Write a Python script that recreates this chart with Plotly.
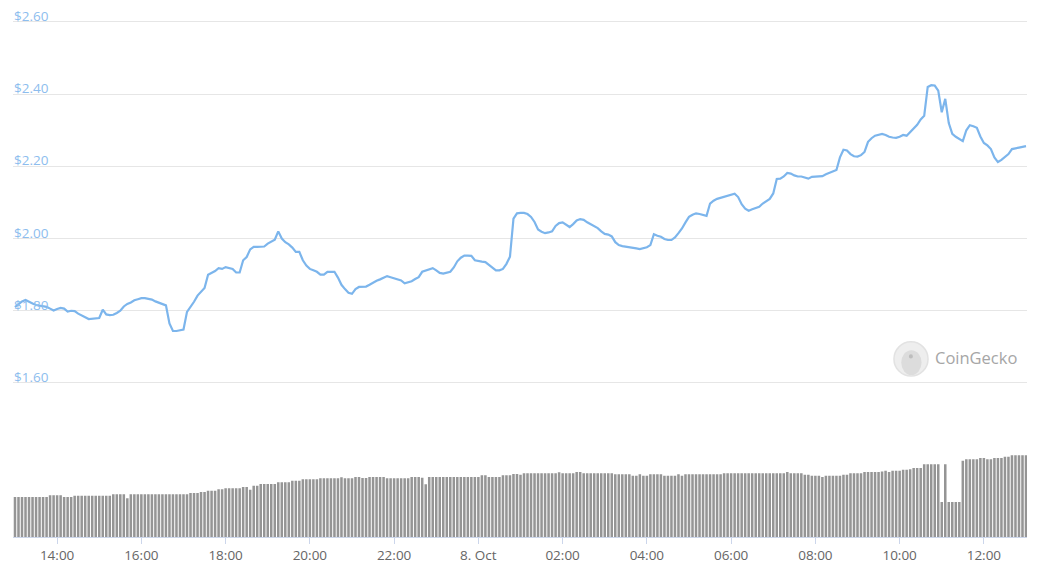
import pandas as pd
import plotly.graph_objects as go

# ---- data (5-minute steps, 7 Oct 13:00 -> 8 Oct 13:00) ----
start_time = "2021-10-07 13:00"
n_points = 289
times = pd.date_range(start_time, periods=n_points, freq="5min")

price = [
    1.810, 1.818, 1.826, 1.830, 1.824, 1.820, 1.816, 1.815, 1.813, 1.811, 1.806, 1.801,
    1.805, 1.808, 1.806, 1.798, 1.800, 1.799, 1.792, 1.788, 1.782, 1.777, 1.778, 1.780,
    1.780, 1.803, 1.790, 1.788, 1.789, 1.794, 1.800, 1.812, 1.819, 1.823, 1.829, 1.832,
    1.835, 1.835, 1.834, 1.831, 1.826, 1.822, 1.818, 1.815, 1.765, 1.744, 1.744, 1.745,
    1.748, 1.797, 1.810, 1.825, 1.842, 1.852, 1.863, 1.900, 1.905, 1.910, 1.918, 1.916,
    1.921, 1.918, 1.916, 1.906, 1.906, 1.940, 1.949, 1.970, 1.977, 1.977, 1.977, 1.978,
    1.986, 1.992, 1.997, 2.020, 2.000, 1.990, 1.984, 1.975, 1.963, 1.963, 1.940, 1.925,
    1.916, 1.912, 1.908, 1.900, 1.900, 1.908, 1.908, 1.908, 1.892, 1.872, 1.860, 1.850,
    1.847, 1.860, 1.866, 1.866, 1.867, 1.872, 1.878, 1.883, 1.887, 1.891, 1.896, 1.893,
    1.890, 1.887, 1.884, 1.876, 1.878, 1.882, 1.888, 1.893, 1.908, 1.911, 1.915, 1.918,
    1.912, 1.905, 1.903, 1.905, 1.908, 1.920, 1.937, 1.947, 1.953, 1.953, 1.952, 1.940,
    1.937, 1.936, 1.935, 1.928, 1.921, 1.912, 1.912, 1.916, 1.930, 1.950, 2.055, 2.070,
    2.071, 2.071, 2.068, 2.060, 2.046, 2.025, 2.019, 2.015, 2.017, 2.020, 2.035, 2.043,
    2.045, 2.038, 2.032, 2.040, 2.050, 2.054, 2.052, 2.045, 2.040, 2.035, 2.029, 2.020,
    2.013, 2.011, 2.006, 1.990, 1.982, 1.979, 1.978, 1.977, 1.975, 1.973, 1.971, 1.973,
    1.976, 1.982, 2.012, 2.008, 2.005, 1.999, 1.996, 1.996, 2.003, 2.015, 2.028, 2.045,
    2.060, 2.066, 2.070, 2.068, 2.065, 2.063, 2.097, 2.105, 2.110, 2.113, 2.115, 2.118,
    2.122, 2.124, 2.115, 2.095, 2.083, 2.077, 2.081, 2.085, 2.088, 2.097, 2.104, 2.110,
    2.125, 2.165, 2.166, 2.172, 2.182, 2.180, 2.175, 2.172, 2.172, 2.170, 2.166, 2.171,
    2.172, 2.172, 2.173, 2.178, 2.182, 2.184, 2.190, 2.225, 2.246, 2.244, 2.234, 2.228,
    2.227, 2.231, 2.240, 2.268, 2.278, 2.285, 2.288, 2.290, 2.287, 2.282, 2.280, 2.279,
    2.282, 2.287, 2.285, 2.296, 2.306, 2.315, 2.330, 2.340, 2.420, 2.425, 2.424, 2.410,
    2.350, 2.387, 2.320, 2.290, 2.282, 2.276, 2.270, 2.300, 2.314, 2.311, 2.307, 2.283,
    2.265, 2.258, 2.248, 2.225, 2.212, 2.218, 2.227, 2.234, 2.248, 2.251, 2.252, 2.254,
    2.256,
]

volume = [
    40, 40, 40, 40, 40, 40, 40, 40, 40, 40, 41.7, 41.7,
    41.7, 41.7, 40, 40, 40, 41.3, 41.3, 41.3, 41.3, 41.3, 41.3, 41.3,
    41.3, 41.3, 41.3, 41.3, 42.7, 42.7, 42.7, 42.7, 38.7, 42.7, 42.7, 42.7,
    42.7, 42.7, 42.7, 42.7, 42.7, 42.7, 42.7, 42.7, 42.7, 42.7, 42.7, 42.7,
    42.7, 42.7, 44, 44, 44, 45, 45, 46.3, 46.3, 46.3, 47.7, 47.7,
    48.7, 48.7, 48.7, 48.7, 48.7, 50, 50, 47.3, 51.3, 51.3, 53, 53,
    53, 53, 53, 54.7, 54.7, 54.7, 54.7, 56.3, 56.3, 56.3, 57.7, 57.7,
    57.7, 57.7, 57.7, 58.7, 58.7, 58.7, 58.7, 58.7, 58.7, 59.7, 58.7, 58.7,
    58.7, 60, 60, 59, 59, 60, 60, 60, 60, 60, 58.7, 58.7,
    58.7, 58.7, 58.7, 58.7, 58.7, 60, 60, 60, 59.3, 52.7, 60, 60,
    60, 60, 60, 60, 60, 60, 60, 60, 60, 60, 60, 60,
    60, 61.7, 61.7, 60, 60, 60, 60, 61.7, 61.7, 61.7, 63, 63,
    62.3, 63.7, 63.7, 63.7, 63.7, 63.7, 63.7, 63.7, 63.7, 63.7, 63.7, 64.7,
    63.7, 63.7, 63.7, 63.7, 65, 65, 63.7, 63.7, 63.7, 63.7, 63.7, 63.7,
    63.7, 63.7, 63.7, 62.7, 62.7, 62.7, 62.7, 62.7, 61.3, 61.3, 62.7, 61.3,
    61.3, 62.7, 62.7, 62.7, 62.7, 61.3, 61.3, 61.3, 61.3, 62.7, 61.3, 62.7,
    62.7, 62.7, 62.7, 62.7, 62.7, 62.7, 62.7, 62.7, 62.7, 62.7, 63.7, 63.7,
    63.7, 63.7, 63.7, 63.7, 63.7, 63.7, 63.7, 63.7, 63.7, 63.7, 63.7, 63.7,
    63.7, 63.7, 63.7, 63.7, 65, 63.7, 63.7, 63.7, 63.7, 62.3, 62.3, 61.3,
    61.3, 61.3, 60, 61.3, 61.3, 61.3, 61.3, 61.3, 62.3, 62.3, 63.7, 63.7,
    63.7, 63.7, 65, 65, 65, 65, 65, 65.5, 66.3, 65, 66.3, 66.3,
    66.3, 67.3, 67.3, 67.7, 69, 69, 69, 72.7, 72.7, 72.7, 72.7, 72.7,
    35, 72.7, 35, 35, 35, 35, 76.3, 77.7, 77.7, 77.7, 77.7, 79,
    79, 77.7, 77.7, 79, 79, 79, 80.3, 80.3, 81.7, 81.7, 81.7, 81.7,
    81.7,
]

price_ticks = [1.6, 1.8, 2.0, 2.2, 2.4, 2.6]
price_tick_labels = ["$1.60", "$1.80", "$2.00", "$2.20", "$2.40", "$2.60"]
x_tick_times = ["2021-10-07 14:00", "2021-10-07 16:00", "2021-10-07 18:00",
                "2021-10-07 20:00", "2021-10-07 22:00", "2021-10-08 00:00",
                "2021-10-08 02:00", "2021-10-08 04:00", "2021-10-08 06:00",
                "2021-10-08 08:00", "2021-10-08 10:00", "2021-10-08 12:00"]
x_tick_labels = ["14:00", "16:00", "18:00", "20:00", "22:00", "8. Oct",
                 "02:00", "04:00", "06:00", "08:00", "10:00", "12:00"]

# ---- figure ----
fig = go.Figure()

fig.add_trace(go.Bar(
    x=times, y=volume, xaxis="x", yaxis="y2",
    marker=dict(color="#959595", line=dict(width=0)),
    hoverinfo="skip", showlegend=False,
))

fig.add_trace(go.Scatter(
    x=times, y=price, xaxis="x", yaxis="y",
    mode="lines", line=dict(color="#7cb5ec", width=2.2),
    showlegend=False,
))

FONT = "Open Sans, Noto Sans, DejaVu Sans, sans-serif"

fig.update_layout(
    width=1036, height=570,
    margin=dict(l=5, r=17, t=10, b=41),
    paper_bgcolor="white", plot_bgcolor="white",
    bargap=0.28,
    font=dict(family=FONT),
    xaxis=dict(
        type="date",
        range=["2021-10-07 12:57:10", "2021-10-08 13:01:25"],
        anchor="y2",
        showgrid=False, zeroline=False,
        showline=True, linecolor="#ccd6eb", linewidth=1,
        ticks="outside", ticklen=6, tickcolor="#ccd6eb", tickwidth=1,
        tickvals=x_tick_times, ticktext=x_tick_labels,
        tickfont=dict(size=13.5, color="#666666", family=FONT),
    ),
    yaxis=dict(
        domain=[0.2898, 1.0],
        range=[1.59, 2.611],
        tickvals=price_ticks,
        showticklabels=False,
        showgrid=True, gridcolor="#e6e6e6", gridwidth=1,
        zeroline=False, showline=False, ticks="",
    ),
    yaxis2=dict(
        domain=[0.0, 0.2],
        range=[0, 103.8],
        showgrid=False, zeroline=False, showticklabels=False,
        showline=False, ticks="",
    ),
)

# price axis labels (inside, above each gridline)
for val, lab in zip(price_ticks, price_tick_labels):
    fig.add_annotation(text=lab, xref="paper", yref="y", x=0.0, y=val,
                       xanchor="left", yanchor="middle", yshift=6,
                       borderpad=0, showarrow=False,
                       font=dict(size=13.5, color="#8dbdee", family=FONT))

# CoinGecko watermark
fig.add_shape(type="circle", xref="paper", yref="paper",
              x0=0.8688, x1=0.9024, y0=0.310, y1=0.376,
              fillcolor="#eeeeee", line=dict(color="#e2e2e2", width=1.5),
              layer="below")
fig.add_shape(type="circle", xref="paper", yref="paper",
              x0=0.876, x1=0.896, y0=0.312, y1=0.360,
              fillcolor="#dcdcdc", line=dict(width=0), layer="below")
fig.add_shape(type="circle", xref="paper", yref="paper",
              x0=0.8835, x1=0.8875, y0=0.344, y1=0.352,
              fillcolor="#bdbdbd", line=dict(width=0), layer="below")
fig.add_annotation(text="CoinGecko", xref="paper", yref="paper",
                   x=0.907, y=0.345, xanchor="left", yanchor="middle",
                   showarrow=False,
                   font=dict(size=16.5, color="#a6a6a6", family=FONT))

fig.write_html("out.html")
